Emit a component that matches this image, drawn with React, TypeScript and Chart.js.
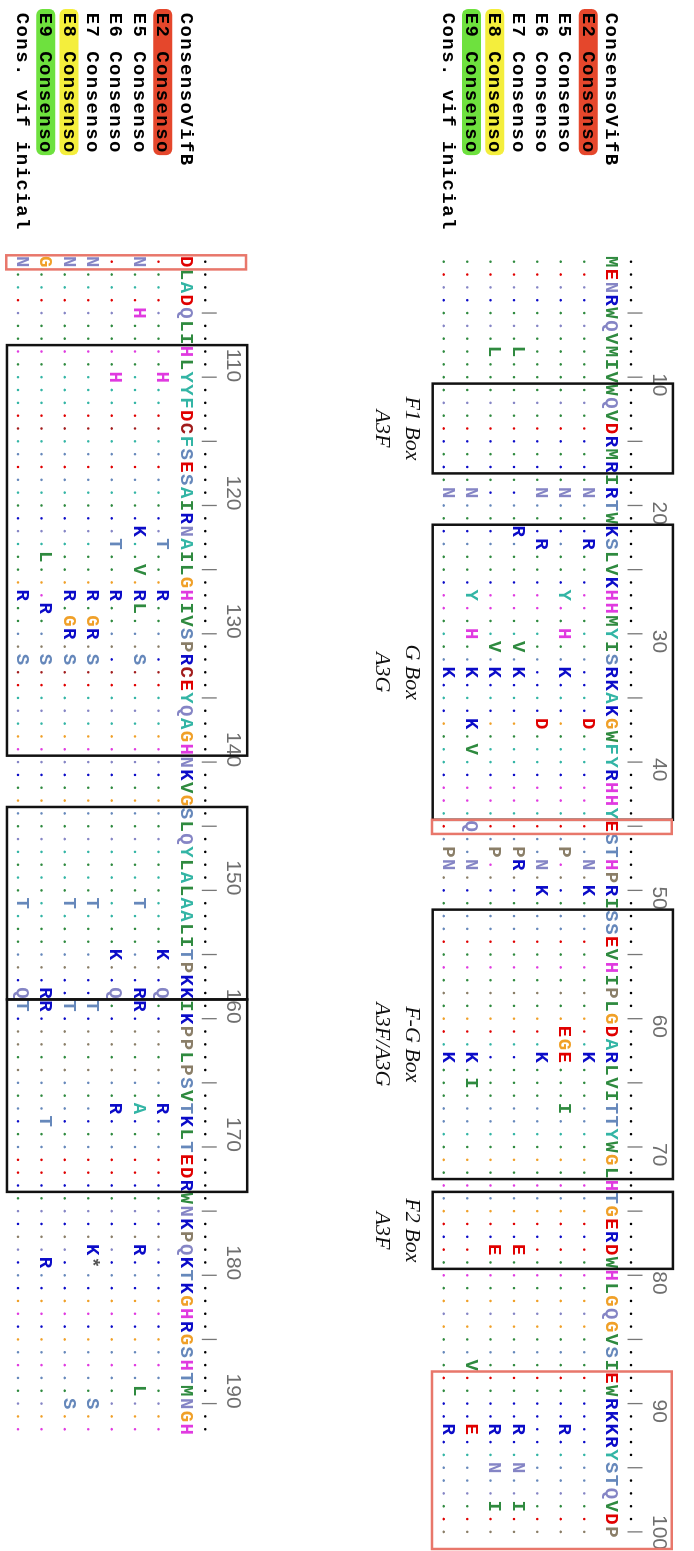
import React, { useEffect, useRef } from 'react';
import { Chart, registerables } from 'chart.js';

Chart.register(...registerables);

// ---------- DATA ----------
const rowLabels = [
  'ConsensoVifB',
  'E2 Consenso',
  'E5 Consenso',
  'E6 Consenso',
  'E7 Consenso',
  'E8 Consenso',
  'E9 Consenso',
  'Cons. vif inicial',
];
const labelHighlights = ['', '#e5472c', '', '', '', '#f4ee3c', '#6ee13e', ''];

const consensusBlock1 =
  'MENRWQVMIVWQVDRMRIRTWKSLVKHHMYISRKAKGWFYRHHYESTHPRISSEVHIPLGDARLVITTYWGLHTGERDWHLGQGVSIEWRKKRYSTQVDP';
const consensusBlock2 =
  'DLADQLIHLYYFDCFSESAIRNAILGHIVSPRCEYQAGHNKVGSLQYLALAALITPKKIKPPLPSVTKLTEDRWNKPQKTKGHRGSHTMNGH';

// residue that differs from the consensus, followed by its position
const e2Changes = 'N19 R23 D37 N48 K50 K63 H110 T123 R127 K155 Q158 R167';
const e5Changes =
  'N19 Y27 H30 K33 P47 E61 G62 E63 I67 R92 N101 H105 K122 V125 R127 L128 S132 T151 R158 R159 A167 R178 L189';
const e6Changes = 'N19 R23 D37 N48 K50 K63 H110 T123 R127 K155 Q158 R167';
const e7Changes =
  'L8 R22 V31 K33 P47 R48 E78 R92 N95 I98 N101 R127 G129 R130 S132 T151 T159 K178 *179 S190';
const e8Changes = 'L8 V31 K33 P47 E78 R92 N95 I98 N101 R127 G129 R130 S132 T151 T159 S190';
const e9Changes =
  'N19 Y27 H30 K33 K37 V39 Q45 N48 K63 I65 V87 E92 G101 L124 R128 S132 R158 R159 T168 R179';
const consInicialChanges = 'N19 K33 P47 N48 K63 R92 N101 R127 S132 T151 Q158 T159';

const rulerNumbersBlock1 = [10, 20, 30, 40, 50, 60, 70, 80, 90, 100];
const rulerNumbersBlock2 = [110, 120, 130, 140, 150, 160, 170, 180, 190];

const regionBoxes = [
  { from: 11, to: 17, title: 'F1 Box', sub: 'A3F' },
  { from: 22, to: 44, title: 'G Box', sub: 'A3G' },
  { from: 52, to: 72, title: 'F-G Box', sub: 'A3F/A3G' },
  { from: 74, to: 79, title: 'F2 Box', sub: 'A3F' },
  { from: 108, to: 139, title: '', sub: '' },
  { from: 144, to: 158, title: '', sub: '' },
  { from: 159, to: 173, title: '', sub: '' },
];
const highlightBoxes = [
  { from: 45, to: 45 },
  { from: 88, to: 100 },
  { from: 101, to: 101 },
];

const residueColors: Record<string, string> = {
  A: '#33b5a5', F: '#33b5a5', Y: '#33b5a5',
  C: '#a11c1c', D: '#e00000', E: '#e00000',
  G: '#f0a028', H: '#e03ae0',
  I: '#2f8a3f', L: '#2f8a3f', M: '#2f8a3f', V: '#2f8a3f', W: '#2f8a3f',
  K: '#0b0bc8', R: '#0b0bc8',
  N: '#8585c5', Q: '#8585c5',
  S: '#6688bb', T: '#6688bb',
  P: '#8a7e68', '*': '#555555',
};

// ---------- LAYOUT ----------
const W = 1551;
const H = 694;
const blocks = [
  { first: 1, last: 100, offset: 0, numbers: rulerNumbersBlock1, align: 'left' },
  { first: 101, last: 192, offset: 18.2, numbers: rulerNumbersBlock2, align: 'right' },
];
const SEQ_FONT = 'bold 19px "Liberation Mono", "DejaVu Sans Mono", monospace';
const NUM_FONT = '21px "Liberation Sans", Arial, sans-serif';
const BOX_FONT = 'italic 22px "Liberation Serif", "Times New Roman", serif';
const LABEL_X = 12;

function parseChanges(s: string) {
  const m = new Map<number, string>();
  s.split(/\s+/).filter(Boolean).forEach((t) => m.set(parseInt(t.slice(1), 10), t[0]));
  return m;
}

const consensus = consensusBlock1 + consensusBlock2;
const rowChanges = [e2Changes, e5Changes, e6Changes, e7Changes, e8Changes, e9Changes, consInicialChanges].map(parseChanges);

function blockOf(p: number) {
  return blocks.find((b) => p >= b.first && p <= b.last)!;
}

function buildData() {
  const dots: { x: number; y: number }[] = [];
  const dotColors: string[] = [];
  const rulerDots: { x: number; y: number }[] = [];
  const rulerTicks: { x: number; y: number }[] = [];
  const letters: { x: number; y: number }[] = [];
  const letterChars: string[] = [];
  const letterColors: string[] = [];

  blocks.forEach((b) => {
    for (let p = b.first; p <= b.last; p++) {
      const col = p - b.first + 1;
      const res = consensus[p - 1];
      if (p % 5 === 0) rulerTicks.push({ x: col, y: b.offset + 0.77 });
      else rulerDots.push({ x: col, y: b.offset + 1 - 0.055 });
      letters.push({ x: col, y: b.offset + 2 });
      letterChars.push(res);
      letterColors.push(residueColors[res]);
      rowChanges.forEach((ch, i) => {
        const r = i + 1;
        const c = ch.get(p);
        if (c) {
          letters.push({ x: col, y: b.offset + 2 + r });
          letterChars.push(c);
          letterColors.push(residueColors[c] || '#555');
        } else {
          dots.push({ x: col, y: b.offset + 2 + r - 0.055 });
          dotColors.push(residueColors[res]);
        }
      });
    }
  });
  return { dots, dotColors, rulerDots, rulerTicks, letters, letterChars, letterColors };
}

const alignPlugin = {
  id: 'alignText',
  beforeDatasetsDraw(chart: any) {
    const { ctx, scales } = chart;
    const x = scales.x;
    const y = scales.y;
    const colW = x.getPixelForValue(2) - x.getPixelForValue(1);
    ctx.save();
    blocks.forEach((b) => {
      rowLabels.forEach((lab, r) => {
        const col = labelHighlights[r];
        if (!col) return;
        const base = y.getPixelForValue(b.offset + 2 + r);
        ctx.fillStyle = col;
        ctx.beginPath();
        const x0 = LABEL_X - 3;
        const w = lab.length * colW + 5;
        if (ctx.roundRect) ctx.roundRect(x0, base - 15, w, 19, 6);
        else ctx.rect(x0, base - 15, w, 19);
        ctx.fill();
      });
    });
    ctx.restore();
  },
  afterDatasetsDraw(chart: any) {
    const { ctx, scales } = chart;
    const x = scales.x;
    const y = scales.y;
    const colW = x.getPixelForValue(2) - x.getPixelForValue(1);
    ctx.save();

    // sequence letters (consensus + changes)
    chart.data.datasets.forEach((ds: any, i: number) => {
      if (ds.kind !== 'text') return;
      const meta = chart.getDatasetMeta(i);
      ctx.font = SEQ_FONT;
      ctx.textAlign = 'center';
      ctx.textBaseline = 'alphabetic';
      meta.data.forEach((el: any, j: number) => {
        ctx.fillStyle = ds.letterColors[j];
        ctx.fillText(ds.letterChars[j], el.x, el.y);
      });
    });

    // row labels
    ctx.font = SEQ_FONT;
    ctx.textAlign = 'center';
    ctx.fillStyle = '#000';
    blocks.forEach((b) => {
      rowLabels.forEach((lab, r) => {
        const base = y.getPixelForValue(b.offset + 2 + r);
        for (let k = 0; k < lab.length; k++) {
          ctx.fillText(lab[k], LABEL_X + colW * (k + 0.5), base);
        }
      });
    });

    // ruler numbers
    ctx.font = NUM_FONT;
    ctx.fillStyle = '#6e6e6e';
    blocks.forEach((b) => {
      const base = y.getPixelForValue(b.offset);
      b.numbers.forEach((n) => {
        const px = x.getPixelForValue(n - b.first + 1);
        const txt = String(n);
        const tw = ctx.measureText(txt).width;
        let left = b.align === 'left' ? px - 4 : px + 5 - tw;
        if (left + tw > chart.width - 1) left = chart.width - 1 - tw;
        ctx.textAlign = 'left';
        ctx.fillText(txt, left, base);
      });
    });

    // region boxes
    regionBoxes.forEach((rb) => {
      const b = blockOf(rb.from);
      const x1 = x.getPixelForValue(rb.from - b.first + 0.5);
      const x2 = x.getPixelForValue(rb.to - b.first + 1.5);
      const y1 = y.getPixelForValue(b.offset - 0.85);
      const y2 = Math.min(y.getPixelForValue(b.offset + 9.42), chart.height - 1.5);
      ctx.strokeStyle = '#111';
      ctx.lineWidth = 2.5;
      ctx.strokeRect(x1, y1, x2 - x1, y2 - y1);
      if (rb.title) {
        ctx.font = BOX_FONT;
        ctx.fillStyle = '#111';
        ctx.textAlign = 'center';
        const cx = (x1 + x2) / 2;
        ctx.fillText(rb.title, cx, y.getPixelForValue(b.offset + 10.58));
        ctx.fillText(rb.sub, cx, y.getPixelForValue(b.offset + 11.83));
      }
    });

    // red highlight boxes
    highlightBoxes.forEach((hb) => {
      const b = blockOf(hb.from);
      const x1 = x.getPixelForValue(hb.from - b.first + 0.5);
      const x2 = hb.to === 100 ? chart.width - 2 : x.getPixelForValue(hb.to - b.first + 1.6);
      const y1 = y.getPixelForValue(b.offset - 0.8);
      const y2 = Math.min(y.getPixelForValue(b.offset + 9.45), chart.height - 2.5);
      ctx.strokeStyle = '#e8776b';
      ctx.lineWidth = 2.5;
      ctx.strokeRect(x1, y1, x2 - x1, y2 - y1);
    });

    ctx.restore();
  },
};

export default function App() {
  const ref = useRef<HTMLCanvasElement>(null);
  useEffect(() => {
    const d = buildData();
    const chart = new Chart(ref.current as HTMLCanvasElement, {
      type: 'scatter',
      data: {
        datasets: [
          {
            label: 'dots',
            data: d.dots,
            pointRadius: 1.25,
            pointBorderWidth: 0,
            pointBackgroundColor: d.dotColors,
            clip: false,
          } as any,
          {
            label: 'ruler',
            data: d.rulerDots,
            pointRadius: 1.3,
            pointBorderWidth: 0,
            pointBackgroundColor: '#000',
            clip: false,
          } as any,
          {
            label: 'ticks',
            data: d.rulerTicks,
            pointStyle: 'line',
            rotation: 90,
            pointRadius: 7.5,
            pointBorderWidth: 1.3,
            pointBorderColor: '#777',
            clip: false,
          } as any,
          {
            label: 'letters',
            kind: 'text',
            data: d.letters,
            letterChars: d.letterChars,
            letterColors: d.letterColors,
            pointRadius: 0,
            clip: false,
          } as any,
        ],
      },
      options: {
        animation: false,
        responsive: false,
        devicePixelRatio: 1,
        events: [],
        layout: { padding: { left: 255.3, right: 12.7, top: 0, bottom: 0 } },
        plugins: { legend: { display: false }, tooltip: { enabled: false } },
        scales: {
          x: { type: 'linear', min: 0.5, max: 100.5, display: false },
          y: { type: 'linear', min: -1.375, max: H / 24 - 1.375, reverse: true, display: false },
        },
      },
      plugins: [alignPlugin],
    });
    return () => chart.destroy();
  }, []);

  return (
    <div
      style={{
        position: 'absolute',
        left: 0,
        top: 0,
        width: H,
        height: W,
        overflow: 'hidden',
        background: '#fff',
      }}
    >
      <div
        style={{
          position: 'absolute',
          left: 0,
          top: 0,
          width: W,
          height: H,
          transformOrigin: '0 0',
          transform: `translate(${H}px, 0px) rotate(90deg)`,
        }}
      >
        <canvas ref={ref} width={W} height={H} style={{ display: 'block', width: W, height: H }} />
      </div>
    </div>
  );
}
